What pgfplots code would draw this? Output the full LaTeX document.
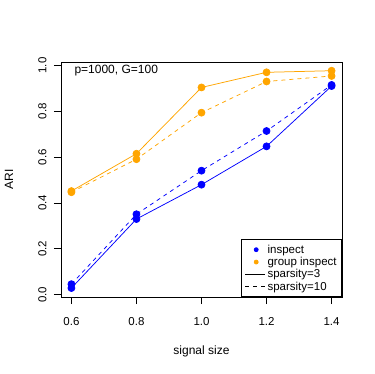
\documentclass[border=0pt]{standalone}
\usepackage{fontspec}
\setmainfont{Liberation Sans}
\usepackage{pgfplots}
\pgfplotsset{compat=1.18}
\definecolor{rblue}{RGB}{0,0,255}
\definecolor{rorange}{RGB}{255,165,0}
\pgfplotsset{
  rdotlegend/.style={legend image code/.code={\path[##1] plot[only marks] coordinates {(10pt,0pt)};}},
  rlinelegend/.style={legend image code/.code={\draw[##1] (-1pt,0pt) -- (19pt,0pt);}},
}
\begin{document}
\begin{tikzpicture}[x=1pt,y=1pt]
\useasboundingbox (-61,-77) rectangle (313,297);
\begin{axis}[
  at={(0,0)}, anchor=south west,
  width=281pt, height=235pt, scale only axis,
  xmin=0.568, xmax=1.432, ymin=-0.01, ymax=1.015,
  xtick={0.6,0.8,1.0,1.2,1.4}, xticklabels={0.6,0.8,1.0,1.2,1.4},
  ytick={0,0.2,0.4,0.6,0.8,1.0}, yticklabels={0.0,0.2,0.4,0.6,0.8,1.0},
  tick align=outside, tick pos=left, major tick length=7pt,
  tick style={black, line width=0.75pt},
  axis line style={black, line width=0.75pt},
  /pgf/number format/assume math mode=true,
  tick label style={font=\fontsize{11.5}{13}\selectfont},
  xticklabel style={anchor=north, yshift=-10pt},
  yticklabel style={rotate=90, anchor=south},
  yticklabel shift=4pt,
  xlabel={signal size}, ylabel={ARI},
  label style={font=\fontsize{12}{14}\selectfont},
  xlabel style={at={(axis description cs:0.5,-0.2298)}, anchor=center},
  ylabel style={at={(axis description cs:-0.185,0.5)}, anchor=center, rotate=0},
  legend style={at={(1,0)}, anchor=south east, draw=black, line width=0.75pt,
    font=\fontsize{11.5}{13}\selectfont, inner sep=3pt,
    row sep=-1.5pt, cells={anchor=west}},
  legend cell align=left,
  every axis plot/.append style={line width=0.75pt},
]
\addlegendimage{only marks, mark=*, rblue, mark size=2pt, rdotlegend}
\addlegendentry{inspect}
\addlegendimage{only marks, mark=*, rorange, mark size=2pt, rdotlegend}
\addlegendentry{group inspect}
\addlegendimage{black, line width=0.75pt, rlinelegend}
\addlegendentry{sparsity=3}
\addlegendimage{black, line width=0.75pt, dash pattern=on 4pt off 4pt, rlinelegend}
\addlegendentry{sparsity=10}
\addplot[rblue, mark=*, mark size=3.5pt, mark options={solid}, forget plot] coordinates {(0.6,0.029) (0.8,0.330) (1.0,0.480) (1.2,0.647) (1.4,0.910)};
\addplot[rblue, dash pattern=on 4pt off 4pt, mark=*, mark size=3.5pt, mark options={solid}, forget plot] coordinates {(0.6,0.046) (0.8,0.351) (1.0,0.541) (1.2,0.714) (1.4,0.915)};
\addplot[rorange, mark=*, mark size=3.5pt, mark options={solid}, forget plot] coordinates {(0.6,0.452) (0.8,0.615) (1.0,0.904) (1.2,0.970) (1.4,0.977)};
\addplot[rorange, dash pattern=on 4pt off 4pt, mark=*, mark size=3.5pt, mark options={solid}, forget plot] coordinates {(0.6,0.447) (0.8,0.591) (1.0,0.794) (1.2,0.930) (1.4,0.954)};
\node[anchor=base west, font=\fontsize{12}{14}\selectfont] at (axis description cs:0.0356,0.949) {p=1000, G=100};
\end{axis}
\end{tikzpicture}
\end{document}
